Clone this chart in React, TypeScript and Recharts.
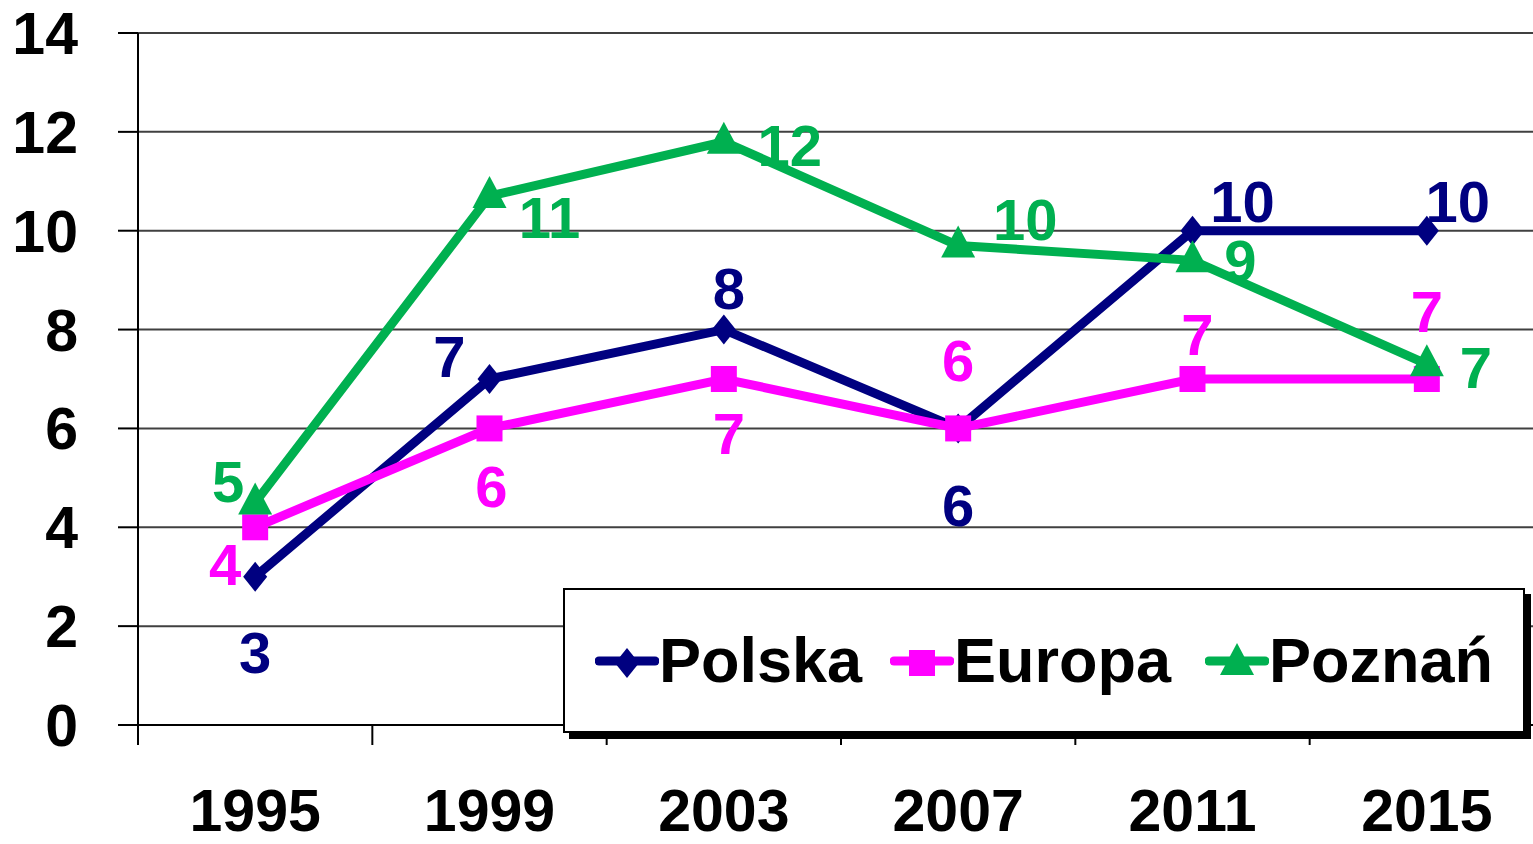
import React from "react";
import { CartesianGrid, LabelList, Legend, Line, LineChart, XAxis, YAxis } from "recharts";

const years = ["1995", "1999", "2003", "2007", "2011", "2015"];
const polska = [3, 7, 8, 6, 10, 10];
const europa = [4, 6, 7, 6, 7, 7];
const poznan = [4.5, 10.7, 11.8, 9.7, 9.4, 7.3];
const poznanLabels = [5, 11, 12, 10, 9, 7];
const yTicks = [0, 2, 4, 6, 8, 10, 12, 14];

const FONT = "'Liberation Sans', Arial, sans-serif";
const NAVY = "#000080";
const PINK = "#FF00FF";
const GREEN = "#00B050";

const CHART_W = 1544;
const CHART_H = 844;
const Y_AXIS_W = 138;
const TOP = 33;
const X_AXIS_H = 119;
const PLOT_BOTTOM = CHART_H - X_AXIS_H;
const BAND = (CHART_W - Y_AXIS_W) / years.length;

// label offsets from each point (dx, dy of label centre)
const polskaOffsets = [[0, 75], [-40, -23], [5, -42], [0, 77], [50, -30], [31, -30]];
const europaOffsets = [[-30, 37], [2, 58], [5, 54], [0, -68], [5, -45], [0, -68]];
const poznanOffsets = [[-27, -22], [60, 21], [66, 3], [67, -27], [48, 0], [49, 3]];

const data = years.map((year, i) => ({
  year,
  polska: polska[i],
  europa: europa[i],
  poznan: poznan[i],
  poznanLabel: poznanLabels[i],
}));

function Diamond({ cx, cy, w = 24, h = 30, fill }: any) {
  return <path d={`M${cx},${cy - h / 2}L${cx + w / 2},${cy}L${cx},${cy + h / 2}L${cx - w / 2},${cy}Z`} fill={fill} />;
}
function Square({ cx, cy, s = 26, fill }: any) {
  return <rect x={cx - s / 2} y={cy - s / 2} width={s} height={s} fill={fill} />;
}
function Triangle({ cx, cy, w = 34, h = 32, fill }: any) {
  return <path d={`M${cx},${cy - h / 2 - 4}L${cx + w / 2},${cy + h / 2 - 4}L${cx - w / 2},${cy + h / 2 - 4}Z`} fill={fill} />;
}

function makeLabel(color: string, offsets: number[][]) {
  return (props: any) => {
    const { x, y, index, value } = props;
    const [dx, dy] = offsets[index];
    return (
      <text
        x={x + dx}
        y={y + dy + 21}
        textAnchor="middle"
        fill={color}
        fontFamily={FONT}
        fontWeight="bold"
        fontSize={58}
      >
        {value}
      </text>
    );
  };
}

function YearTick(props: any) {
  const { x, payload, index } = props;
  return (
    <g>
      <line x1={x - BAND / 2} x2={x - BAND / 2} y1={PLOT_BOTTOM} y2={PLOT_BOTTOM + 20} stroke="#000" strokeWidth={2} />
      {index === years.length - 1 && (
        <line x1={x + BAND / 2} x2={x + BAND / 2} y1={PLOT_BOTTOM} y2={PLOT_BOTTOM + 20} stroke="#000" strokeWidth={2} />
      )}
      <text x={x} y={831} textAnchor="middle" fill="#000" fontFamily={FONT} fontWeight="bold" fontSize={59}>
        {payload.value}
      </text>
    </g>
  );
}

function ValueTick(props: any) {
  const { y, payload } = props;
  return (
    <text x={78} y={y + 21} textAnchor="end" fill="#000" fontFamily={FONT} fontWeight="bold" fontSize={59}>
      {payload.value}
    </text>
  );
}

const legendItems = [
  { name: "Polska", color: NAVY, Marker: Diamond, left: 30 },
  { name: "Europa", color: PINK, Marker: Square, left: 325 },
  { name: "Poznań", color: GREEN, Marker: Triangle, left: 640 },
];

function LegendBox() {
  return (
    <div
      style={{
        position: "relative",
        width: 962,
        height: 145,
        boxSizing: "border-box",
        border: "2px solid #000",
        background: "#fff",
        boxShadow: "6px 6px 0 #000",
      }}
    >
      {legendItems.map(({ name, color, Marker, left }) => (
        <div key={name} style={{ position: "absolute", left, top: 0, height: 141, display: "flex", alignItems: "center" }}>
          <svg width={64} height={40}>
            <line x1={4} x2={60} y1={20} y2={20} stroke={color} strokeWidth={9} strokeLinecap="round" />
            <Marker cx={32} cy={22} fill={color} />
          </svg>
          <span style={{ fontFamily: FONT, fontWeight: "bold", fontSize: 63, color: "#000", lineHeight: 1 }}>{name}</span>
        </div>
      ))}
    </div>
  );
}

export default function App() {
  return (
    <div style={{ position: "fixed", left: 0, top: 0, width: 1533, height: 844, overflow: "hidden", background: "#fff" }}>
      <LineChart width={CHART_W} height={CHART_H} data={data} margin={{ top: TOP, right: 0, bottom: 0, left: 0 }}>
        <CartesianGrid vertical={false} stroke="#404040" strokeWidth={2} />
        <XAxis
          dataKey="year"
          scale="band"
          height={X_AXIS_H}
          axisLine={{ stroke: "#000", strokeWidth: 2 }}
          tickLine={false}
          tick={<YearTick />}
          interval={0}
        />
        <YAxis
          width={Y_AXIS_W}
          domain={[0, 14]}
          ticks={yTicks}
          interval={0}
          axisLine={{ stroke: "#000", strokeWidth: 2 }}
          tickLine={{ stroke: "#000", strokeWidth: 2 }}
          tickSize={20}
          tick={<ValueTick />}
        />
        <Legend
          layout="vertical"
          align="center"
          verticalAlign="middle"
          content={<LegendBox />}
          wrapperStyle={{ left: 563, top: 588, width: 962, height: 145 }}
        />
        <Line
          dataKey="polska"
          name="Polska"
          stroke={NAVY}
          strokeWidth={9}
          dot={(p: any) => <Diamond key={p.index} cx={p.cx} cy={p.cy} fill={NAVY} />}
          isAnimationActive={false}
        >
          <LabelList dataKey="polska" content={makeLabel(NAVY, polskaOffsets)} />
        </Line>
        <Line
          dataKey="europa"
          name="Europa"
          stroke={PINK}
          strokeWidth={9}
          dot={(p: any) => <Square key={p.index} cx={p.cx} cy={p.cy} fill={PINK} />}
          isAnimationActive={false}
        >
          <LabelList dataKey="europa" content={makeLabel(PINK, europaOffsets)} />
        </Line>
        <Line
          dataKey="poznan"
          name="Poznań"
          stroke={GREEN}
          strokeWidth={9}
          dot={(p: any) => <Triangle key={p.index} cx={p.cx} cy={p.cy} fill={GREEN} />}
          isAnimationActive={false}
        >
          <LabelList dataKey="poznanLabel" content={makeLabel(GREEN, poznanOffsets)} />
        </Line>
      </LineChart>
    </div>
  );
}
